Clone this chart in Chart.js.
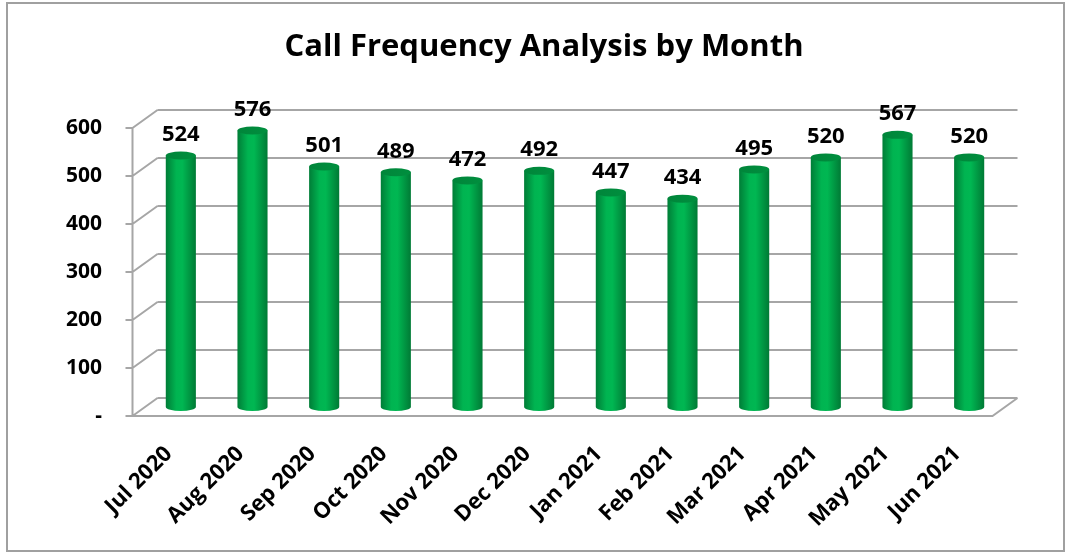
<!DOCTYPE html>
<html>
<head>
<meta charset="utf-8">
<script src="https://cdn.jsdelivr.net/npm/chart.js@4/dist/chart.umd.min.js"></script>
<style>
  html, body { margin: 0; padding: 0; background: #fff; }
  #wrap { position: relative; width: 1071px; height: 554px; }
</style>
</head>
<body>
<div id="wrap"><canvas id="chartCalls"></canvas></div>
<script>
// Donnees
const mois = ['Jul 2020', 'Aug 2020', 'Sep 2020', 'Oct 2020', 'Nov 2020', 'Dec 2020',
              'Jan 2021', 'Feb 2021', 'Mar 2021', 'Apr 2021', 'May 2021', 'Jun 2021'];
const appels = [524, 576, 501, 489, 472, 492, 447, 434, 495, 520, 567, 520];
const graduations = [0, 100, 200, 300, 400, 500, 600];

const FONT = '"Open Sans", "DejaVu Sans", sans-serif';
const GRID = '#a6a6a6';
// decalage de profondeur (effet 3D)
const DX = 12.5, DY = 9;

function cylindre(ctx, x, w) {
    const g = ctx.createLinearGradient(x - w / 2, 0, x + w / 2, 0);
    g.addColorStop(0, '#007d37');
    g.addColorStop(0.35, '#00b451');
    g.addColorStop(0.55, '#00b752');
    g.addColorStop(1, '#007a35');
    return g;
}

// Murs, sol et quadrillage en perspective
const mursPlugin = {
    id: 'murs',
    beforeDatasetsDraw(chart) {
        const { ctx, chartArea: a, scales: { y } } = chart;
        const y0 = y.getPixelForValue(0);
        const yMax = y.getPixelForValue(graduations[graduations.length - 1]);
        ctx.save();
        ctx.strokeStyle = GRID;
        ctx.lineWidth = 2;
        ctx.beginPath();
        graduations.forEach(v => {
            const py = y.getPixelForValue(v);
            // mur du fond
            ctx.moveTo(a.left + DX, py - DY);
            ctx.lineTo(a.right + DX, py - DY);
            // mur gauche
            ctx.moveTo(a.left - DX, py + DY);
            ctx.lineTo(a.left + DX, py - DY);
            // petits traits de graduation
            ctx.moveTo(a.left - DX - 7, py + DY);
            ctx.lineTo(a.left - DX, py + DY);
        });
        // arete avant gauche
        ctx.moveTo(a.left - DX, yMax + DY);
        ctx.lineTo(a.left - DX, y0 + DY);
        // sol
        ctx.moveTo(a.left - DX, y0 + DY);
        ctx.lineTo(a.right - DX, y0 + DY);
        ctx.lineTo(a.right + DX, y0 - DY);
        ctx.stroke();
        ctx.restore();
    },
    afterDatasetsDraw(chart) {
        const { ctx } = chart;
        const meta = chart.getDatasetMeta(0);
        ctx.save();
        meta.data.forEach((bar, i) => {
            const w = bar.width;
            const ry = 4;
            // fond arrondi
            ctx.fillStyle = cylindre(ctx, bar.x, w);
            ctx.beginPath();
            ctx.ellipse(bar.x, bar.base, w / 2, ry, 0, 0, Math.PI);
            ctx.fill();
            // dessus
            const gt = ctx.createLinearGradient(bar.x - w / 2, 0, bar.x + w / 2, 0);
            gt.addColorStop(0, '#00853a');
            gt.addColorStop(1, '#008f3e');
            ctx.fillStyle = gt;
            ctx.beginPath();
            ctx.ellipse(bar.x, bar.y, w / 2, ry, 0, 0, Math.PI * 2);
            ctx.fill();
            // etiquette de valeur
            ctx.fillStyle = '#000';
            ctx.font = 'bold 22px ' + FONT;
            ctx.textAlign = 'center';
            ctx.textBaseline = 'middle';
            ctx.fillText(appels[i], bar.x, bar.y - 21);
        });
        ctx.restore();
    },
    afterDraw(chart) {
        const { ctx } = chart;
        ctx.save();
        ctx.strokeStyle = '#a0a0a0';
        ctx.lineWidth = 2;
        ctx.strokeRect(7, 3, 1057, 548);
        ctx.restore();
    }
};

new Chart(document.getElementById('chartCalls').getContext('2d'), {
    type: 'bar',
    data: {
        labels: mois,
        datasets: [{
            label: 'Calls',
            data: appels,
            backgroundColor: (c) => {
                const ch = c.chart;
                const a = ch.chartArea;
                if (!a || !ch.scales.x || c.dataIndex === undefined) return '#00b050';
                const x = ch.scales.x.getPixelForValue(c.dataIndex);
                const w = (a.right - a.left) / mois.length * 0.42;
                return cylindre(ch.ctx, x, w);
            },
            borderWidth: 0,
            categoryPercentage: 1,
            barPercentage: 0.42
        }]
    },
    options: {
        responsive: true,
        maintainAspectRatio: false,
        animation: false,
        layout: { padding: { left: 50, right: 33, top: 0, bottom: 0 } },
        plugins: {
            legend: { display: false },
            tooltip: { enabled: false },
            title: {
                display: true,
                text: 'Call Frequency Analysis by Month',
                color: '#000',
                font: { family: FONT, size: 31, weight: 'bold' },
                padding: { top: 28.4, bottom: 53.4 }
            }
        },
        scales: {
            x: {
                grid: { display: false, drawTicks: false },
                border: { display: false },
                ticks: {
                    color: '#000',
                    font: { family: FONT, size: 22, weight: 'bold' },
                    maxRotation: 45,
                    minRotation: 45,
                    autoSkip: false,
                    padding: 34,
                    labelOffset: -12
                },
                afterFit(scale) { scale.height = 147; }
            },
            y: {
                min: 0,
                max: 600,
                grid: { display: false, drawTicks: false },
                border: { display: false },
                ticks: {
                    stepSize: 100,
                    color: '#000',
                    font: { family: FONT, size: 21, weight: 'bold' },
                    padding: 43,
                    labelOffset: DY,
                    callback: (v) => v === 0 ? '-' : v
                },
                afterFit(scale) { scale.width = 95; }
            },
            // axe vide a droite : reserve la place de la profondeur
            yDroite: {
                position: 'right',
                min: 0,
                max: 600,
                grid: { display: false, drawTicks: false },
                border: { display: false },
                ticks: { display: false },
                afterFit(scale) { scale.width = 33; }
            }
        }
    },
    plugins: [mursPlugin]
});
</script>
</body>
</html>
